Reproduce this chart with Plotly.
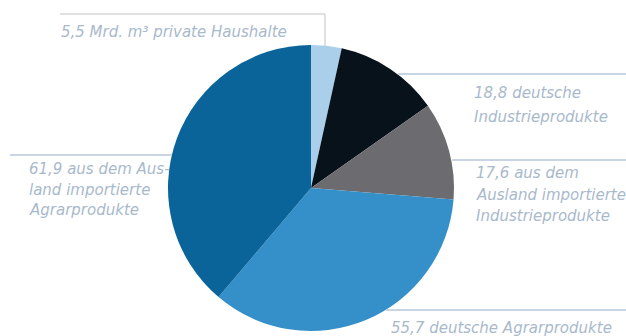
import plotly.graph_objects as go

W, H = 626, 336

categories = ["private Haushalte", "deutsche Industrieprodukte", "aus dem Ausland importierte Industrieprodukte",
              "deutsche Agrarprodukte", "aus dem Ausland importierte Agrarprodukte"]
values = [5.5, 18.8, 17.6, 55.7, 61.9]
colors = ["#a9cfea", "#08121b", "#6c6b70", "#3590c9", "#0a6399"]

label_lines = [
    ["5,5 Mrd. m³ private Haushalte"],
    ["18,8 deutsche", "Industrieprodukte"],
    ["17,6 aus dem", "Ausland importierte", "Industrieprodukte"],
    ["55,7 deutsche Agrarprodukte"],
    ["61,9 aus dem Aus-", "land importierte", "Agrarprodukte"],
]

def px(x):
    return x / W

def py(y):
    return 1 - y / H

fig = go.Figure(go.Pie(
    labels=categories, values=values, sort=False, direction="clockwise", rotation=0,
    marker=dict(colors=colors, line=dict(width=0)),
    textinfo="none", hoverinfo="label+value", showlegend=False,
    domain=dict(x=[px(168), px(454)], y=[py(331), py(45)]),
))

# label anchor positions (left x, first line centre y, line spacing) in pixels
label_pos = [(59, 32, 0), (472, 93, 24), (474, 173, 21.5), (389, 328, 0), (27, 169, 20.5)]
text_color = "#a9b9cc"
annotations = []
for lines, (lx, ly, dy) in zip(label_lines, label_pos):
    for i, t in enumerate(lines):
        annotations.append(dict(
            x=px(lx), y=py(ly + i * dy), xref="paper", yref="paper",
            xanchor="left", yanchor="middle", showarrow=False, text=t,
            font=dict(family="DejaVu Sans", size=15, color=text_color, style="italic"),
        ))

line_col = "#c9d5e2"
shapes = [
    dict(type="line", x0=px(60), x1=px(325), y0=py(14), y1=py(14), xref="paper", yref="paper",
         line=dict(color="#d4d6da", width=1.5)),
    dict(type="line", x0=px(325), x1=px(325), y0=py(14), y1=py(46), xref="paper", yref="paper",
         line=dict(color="#d4d6da", width=1.5)),
    dict(type="line", x0=px(398), x1=px(626), y0=py(74), y1=py(74), xref="paper", yref="paper",
         line=dict(color=line_col, width=1.8)),
    dict(type="line", x0=px(452), x1=px(626), y0=py(160), y1=py(160), xref="paper", yref="paper",
         line=dict(color=line_col, width=1.8)),
    dict(type="line", x0=px(10), x1=px(172), y0=py(155), y1=py(155), xref="paper", yref="paper",
         line=dict(color=line_col, width=1.8)),
    dict(type="line", x0=px(386), x1=px(626), y0=py(310), y1=py(310), xref="paper", yref="paper",
         line=dict(color=line_col, width=1.8)),
]

fig.update_layout(
    width=W, height=H, margin=dict(l=0, r=0, t=0, b=0),
    paper_bgcolor="white", plot_bgcolor="white",
    annotations=annotations, shapes=shapes,
)

fig.write_html("out.html")
